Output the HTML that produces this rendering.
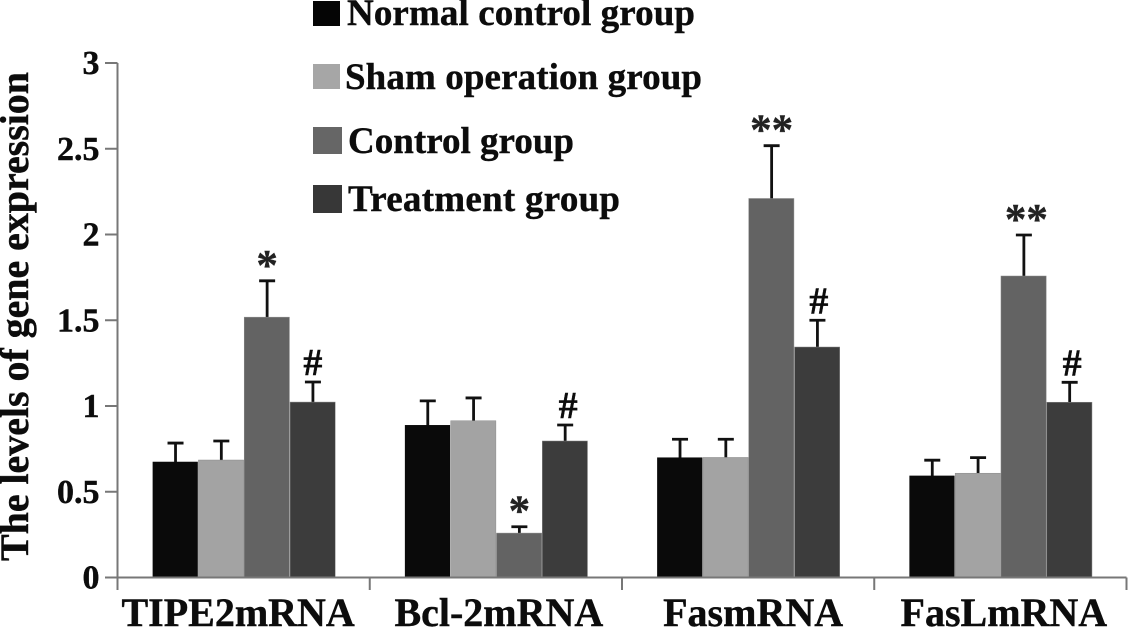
<!DOCTYPE html>
<html lang="en">
<head>
<meta charset="utf-8">
<title>The levels of gene expression</title>
<style>
html,body{margin:0;padding:0;background:#fff;width:1128px;height:629px;overflow:hidden}
svg{display:block}
text{font-family:"Liberation Serif",serif;font-weight:bold;fill:#0c0c0c;stroke:#0c0c0c;stroke-width:.4px}
</style>
</head>
<body>
<svg id="chart" xmlns="http://www.w3.org/2000/svg" width="1128" height="629" viewBox="0 0 1128 629">
  <rect x="0" y="0" width="1128" height="629" fill="#ffffff"/>
  <text transform="translate(28,561) rotate(-90)" font-size="40" textLength="489" lengthAdjust="spacing">The levels of gene expression</text>
  <g>
    <g>
      <rect x="313" y="1" width="27" height="25" fill="#050505"/>
      <text x="347" y="25" font-size="37" textLength="348" lengthAdjust="spacing">Normal control group</text>
    </g>
    <g>
      <rect x="313" y="64" width="27" height="25" fill="#a6a6a6"/>
      <text x="345" y="89" font-size="37" textLength="357" lengthAdjust="spacing">Sham operation group</text>
    </g>
    <g>
      <rect x="313" y="127" width="29" height="27" fill="#666666"/>
      <text x="348" y="153" font-size="37" textLength="226" lengthAdjust="spacing">Control group</text>
    </g>
    <g>
      <rect x="313" y="185" width="29" height="28" fill="#373737"/>
      <text x="348" y="211" font-size="37" textLength="272" lengthAdjust="spacing">Treatment group</text>
    </g>
  </g>
</svg>
<script>
const categories = ['TIPE2mRNA', 'Bcl-2mRNA', 'FasmRNA', 'FasLmRNA'];
const seriesNames = ['normal-control', 'sham-operation', 'control', 'treatment'];
const normalControl = [0.675, 0.889, 0.70, 0.594];
const shamOperation = [0.685, 0.914, 0.70, 0.608];
const controlGroup = [1.518, 0.259, 2.21, 1.758];
const treatmentGroup = [1.023, 0.796, 1.344, 1.022];
const normalControlErrorTop = [0.784, 1.03, 0.806, 0.684];
const shamOperationErrorTop = [0.796, 1.047, 0.806, 0.699];
const controlGroupErrorTop = [1.73, 0.296, 2.518, 1.997];
const treatmentGroupErrorTop = [1.14, 0.889, 1.50, 1.138];
const controlGroupMarks = ['*', '*', '**', '**'];
const treatmentGroupMarks = ['#', '#', '#', '#'];
const yTickLabels = ['0', '0.5', '1', '1.5', '2', '2.5', '3'];

const svgNS = 'http://www.w3.org/2000/svg';
const svg = document.getElementById('chart');
const axisColor = '#777777';
const barColors = ['#0a0a0a', '#a3a3a3', '#636363', '#3c3c3c'];
const plotLeft = 117.5, plotRight = 1126.5, plotBottom = 577.5, unitHeight = 171.5, yMax = 3;
const bandWidth = (plotRight - plotLeft) / categories.length;
const barWidth = 45.8;
const barShift = 0.6;
const labelNudge = [-5.5, 3, 5, 3.5];
const starNudge = [0, 0, 0, 2.5];
const hashNudge = [0, 3, 1.5, 2.5];

function yScale(v) { return plotBottom - v * unitHeight; }
function bandStart(i) { return plotLeft + i * bandWidth; }
function barX(i, s) { return bandStart(i) + bandWidth / 2 - 2 * barWidth + s * barWidth + barShift; }
function make(tag, attrs, text) {
  const el = document.createElementNS(svgNS, tag);
  for (const k in attrs) el.setAttribute(k, attrs[k]);
  if (text !== undefined) el.textContent = text;
  svg.appendChild(el);
  return el;
}

const valueSeries = [normalControl, shamOperation, controlGroup, treatmentGroup];
const errorSeries = [normalControlErrorTop, shamOperationErrorTop, controlGroupErrorTop, treatmentGroupErrorTop];

/* bars and error bars */
valueSeries.forEach(function (values, s) {
  values.forEach(function (v, i) {
    const x = barX(i, s);
    const cx = x + barWidth / 2;
    const errY = yScale(errorSeries[s][i]);
    const stem = make('line', { x1: cx, x2: cx, y1: errY, y2: yScale(v) + 3, stroke: '#111111', 'stroke-width': 2.8 });
    
    
    const cap = make('line', { x1: cx - 8, x2: cx + 8, y1: errY, y2: errY, stroke: '#111111', 'stroke-width': 2.8 });
    
    
    const bar = make('rect', { x: x, y: yScale(v), width: barWidth - 0.6, height: plotBottom - yScale(v), fill: barColors[s], stroke: '#8a8a8a', 'stroke-width': s === 0 ? 0 : 0.5 });
    
    
  });
});

/* axes */
const yAxis = make('line', { x1: plotLeft, x2: plotLeft, y1: yScale(yMax), y2: 590, stroke: axisColor, 'stroke-width': 2 });


const xAxis = make('line', { x1: plotLeft, x2: plotRight, y1: plotBottom, y2: plotBottom, stroke: axisColor, 'stroke-width': 2 });



yTickLabels.forEach(function (label) {
  const y = yScale(Number(label));
  const tick = make('line', { x1: 105, x2: plotLeft, y1: y, y2: y, stroke: axisColor, 'stroke-width': 2 });
  
  
  const text = make('text', { x: 99.5, y: y + 11, 'font-size': 34, 'text-anchor': 'end' }, label);
  
  
});

for (let i = 0; i <= categories.length; i++) {
  const x = bandStart(i);
  const tick = make('line', { x1: x, x2: x, y1: plotBottom, y2: 590, stroke: axisColor, 'stroke-width': 2 });
  
  
}

categories.forEach(function (name, i) {
  const text = make('text', { x: bandStart(i) + bandWidth / 2 + labelNudge[i], y: 626, 'font-size': 40, 'text-anchor': 'middle' }, name);
  
  
});

/* significance marks */
categories.forEach(function (name, i) {
  const cStar = barX(i, 2) + barWidth / 2 + starNudge[i];
  const star = make('text', { x: cStar, y: yScale(controlGroupErrorTop[i]) - 1.5, 'font-size': 43, 'text-anchor': 'middle', style: 'fill:#222222;stroke:#222222' }, controlGroupMarks[i]);
  
  
  const cHash = barX(i, 3) + barWidth / 2 + hashNudge[i];
  const hash = make('text', { x: cHash, y: yScale(treatmentGroupErrorTop[i]) - 7, 'font-size': 38, 'text-anchor': 'middle' }, treatmentGroupMarks[i]);
  
  
});
</script>
</body>
</html>
